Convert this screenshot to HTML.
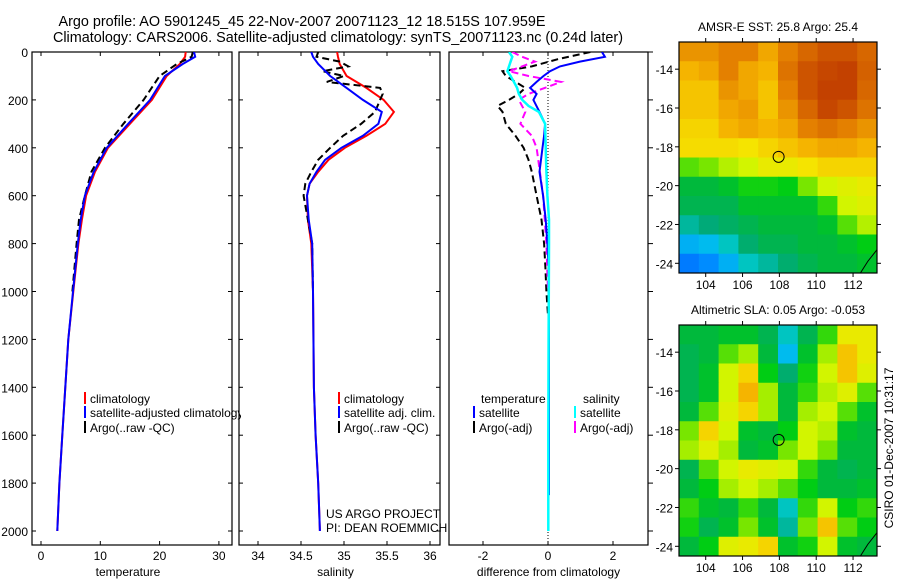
<!DOCTYPE html>
<html><head><meta charset="utf-8"><style>
body{margin:0;background:#fff;}
svg{display:block;font-family:"Liberation Sans",sans-serif;}
</style></head><body>
<svg id="chart" width="900" height="580" viewBox="0 0 900 580" xmlns="http://www.w3.org/2000/svg">
<text x="302" y="26" font-size="14.4" text-anchor="middle">Argo profile: AO 5901245_45 22-Nov-2007 20071123_12 18.515S 107.959E</text>
<text x="338" y="42" font-size="14.4" text-anchor="middle">Climatology: CARS2006. Satellite-adjusted climatology: synTS_20071123.nc (0.24d later)</text>
<g id="g"></g>
</svg>
<script>
// ---- profile data ----
const depthsT = [0,20,50,100,200,300,400,500,600,700,800,1000,1200,1400,1600,1800,2000];
const tempClim = [24.4,24.3,23.4,21.2,18.7,15.0,11.3,9.1,7.6,6.9,6.3,5.45,4.6,4.1,3.6,3.1,2.75];
const tempSat  = [25.8,26.0,23.9,20.9,18.4,14.7,11.1,8.9,7.4,6.7,6.2,5.4,4.6,4.1,3.6,3.1,2.75];
const depthsTA = [0,20,50,100,200,300,400,500,600,700,800,1000];
const tempArgo = [25.6,25.4,22.9,20.0,17.3,13.9,10.8,8.5,7.4,6.4,6.0,5.3];

const depthsS = [0,20,50,100,150,200,250,300,350,400,450,500,550,600,700,800,1000,1400,1600,1800,2000];
const salClim = [34.92,34.93,34.95,35.03,35.26,35.46,35.58,35.48,35.26,35.01,34.82,34.70,34.60,34.57,34.58,34.62,34.64,34.65,34.67,34.70,34.72];
const salSat  = [34.62,34.64,34.70,34.84,35.03,35.22,35.44,35.40,35.22,34.97,34.78,34.68,34.60,34.57,34.59,34.63,34.64,34.65,34.67,34.70,34.72];
const depthsSA = [0,20,40,60,80,100,125,150,175,200,250,300,350,400,450,500,550,600,700,800,1000];
const salArgo = [34.70,34.68,34.95,35.05,34.75,35.0,34.80,35.42,35.45,35.42,35.36,35.20,34.99,34.84,34.70,34.62,34.55,34.53,34.58,34.63,34.64];

const depthsD = [0,20,40,60,80,100,125,150,175,200,250,300,350,400,500,600,700,800,900,1200,1500,1850];
const dTempSat = [1.66,1.75,0.98,0.37,0.06,-0.14,-0.35,-0.55,-0.35,-0.45,-0.26,-0.09,-0.12,-0.17,-0.26,-0.15,-0.07,-0.02,0.02,0.03,0.03,0.03];
const depthsDC = [0,20,40,60,80,100,125,150,175,200,225,250,300,350,400,500,600,700,800,1200,1600,2000];
const dSalSat = [-1.2,-1.1,-1.15,-1.2,-1.25,-1.15,-1.05,-0.95,-0.9,-0.79,-0.6,-0.28,-0.09,-0.08,-0.07,-0.05,-0.02,0.03,0.03,0.02,0.01,0.01];
const depthsDA = [0,30,60,80,100,125,150,175,200,225,250,300,350,400,450,500,600,700,800,900,1000,1100];
const dTempArgo = [1.3,0.3,-0.5,-1.4,-1.3,-1.0,-0.7,-0.9,-1.2,-1.55,-1.4,-1.3,-1.0,-0.75,-0.6,-0.5,-0.35,-0.2,-0.12,-0.08,-0.05,0];
const depthsDM = [0,20,40,60,80,100,125,150,175,200,250,300,350,400,500,600,700,800,1000];
const dSalArgo = [-1.1,-0.8,-0.4,-0.8,-1.2,-0.6,0.4,-0.1,-0.6,-0.9,-0.7,-0.85,-0.5,-0.35,-0.25,-0.15,-0.1,-0.05,0];

const depthTicks = [0,200,400,600,800,1000,1200,1400,1600,1800,2000];
const tempTicks = [0,10,20,30];
const salTicks = [34,34.5,35,35.5,36];
const diffTicks = [-2,0,2];

// ---- map data ----
const sstGrid = [
[.75,.75,.78,.78,.72,.78,.82,.85,.85,.82],
[.70,.72,.78,.72,.70,.80,.85,.87,.88,.83],
[.68,.68,.75,.72,.68,.78,.85,.88,.88,.82],
[.68,.68,.72,.74,.68,.75,.82,.87,.85,.80],
[.66,.66,.70,.72,.70,.72,.78,.80,.78,.75],
[.65,.65,.65,.64,.66,.68,.70,.72,.72,.70],
[.50,.52,.56,.58,.62,.62,.64,.66,.66,.66],
[.40,.40,.42,.46,.46,.45,.52,.58,.60,.62],
[.38,.38,.38,.42,.42,.42,.42,.48,.58,.60],
[.32,.34,.36,.38,.40,.40,.40,.42,.50,.56],
[.25,.26,.30,.35,.38,.38,.40,.40,.42,.45],
[.20,.22,.25,.30,.32,.35,.38,.40,.40,.42]];
const slaGrid = [
[.40,.40,.42,.42,.38,.30,.38,.48,.62,.62],
[.38,.40,.50,.55,.40,.26,.42,.55,.68,.62],
[.38,.42,.58,.66,.45,.35,.46,.58,.68,.60],
[.38,.42,.58,.70,.55,.40,.48,.56,.60,.50],
[.40,.50,.60,.66,.55,.40,.55,.58,.50,.42],
[.52,.66,.58,.42,.40,.45,.58,.56,.42,.40],
[.55,.60,.55,.40,.42,.52,.58,.52,.40,.40],
[.38,.50,.58,.62,.60,.58,.48,.40,.38,.40],
[.40,.45,.55,.58,.55,.50,.45,.40,.40,.42],
[.48,.42,.40,.48,.40,.30,.48,.58,.45,.48],
[.46,.38,.42,.52,.42,.32,.52,.68,.50,.45],
[.40,.45,.60,.62,.66,.42,.46,.58,.42,.40]];
const lonTicks = [104,106,108,110,112];
const latTicks = [-14,-16,-18,-20,-22,-24];
const argoLon = 107.959, argoLat = -18.515;

const NS = "http://www.w3.org/2000/svg";
const G = document.getElementById('g');
function mk(tag, attrs, parent){const e=document.createElementNS(NS,tag);for(const k in attrs)e.setAttribute(k,attrs[k]);(parent||G).appendChild(e);return e;}

const yTop=52, yPx=0.2395, axBottom=545;
const yD = d => yTop + d*yPx;
const panels = [
 {x0:32,x1:232,sx:v=>41+v*5.93,ticks:tempTicks,label:'temperature',name:'temperature'},
 {x0:239,x1:440,sx:v=>258+(v-34)*86,ticks:salTicks,label:'salinity',name:'salinity'},
 {x0:449,x1:648,sx:v=>548+v*32.5,ticks:diffTicks,label:'difference from climatology',name:'difference'}
];
const defs = mk('defs',{});
panels.forEach((p,i)=>{
  const cp = mk('clipPath',{id:'clip'+i},defs);
  mk('rect',{x:p.x0,y:yTop,width:p.x1-p.x0,height:axBottom-yTop},cp);
});
const cpl = mk('clipPath',{id:'clipLeg'},defs);
mk('rect',{x:32,y:yTop,width:209,height:axBottom-yTop},cpl);

function line(p,i,ds,vs,color,w,dash,name){
  const pts = ds.map((d,k)=>p.sx(vs[k]).toFixed(1)+','+yD(d).toFixed(1)).join(' ');
  const e = mk('polyline',{points:pts,fill:'none',stroke:color,'stroke-width':w,'clip-path':'url(#clip'+i+')'});
  if(dash) e.setAttribute('stroke-dasharray',dash);
  
  
}

panels.forEach((p,i)=>{
  const f = mk('rect',{x:p.x0,y:yTop,width:p.x1-p.x0,height:axBottom-yTop,fill:'none',stroke:'#000','stroke-width':1.2});
  
  
  p.ticks.forEach(t=>{
    const x=p.sx(t);
    mk('line',{x1:x,y1:axBottom,x2:x,y2:axBottom-4,stroke:'#000'});
    mk('line',{x1:x,y1:yTop,x2:x,y2:yTop+4,stroke:'#000'});
    const tl = mk('text',{x:x,y:axBottom+15,'font-size':12,'text-anchor':'middle'});
    tl.textContent = t;
    
    
  });
  depthTicks.forEach(d=>{
    const y=yD(d);
    if(i<2){ mk('line',{x1:p.x0,y1:y,x2:p.x0+4,y2:y,stroke:'#000'}); mk('line',{x1:p.x1,y1:y,x2:p.x1-4,y2:y,stroke:'#000'}); }
    else { mk('line',{x1:p.x1,y1:y,x2:p.x1+5,y2:y,stroke:'#000'}); }
    if(i===0){
      const tl = mk('text',{x:28,y:y+5,'font-size':12,'text-anchor':'end'});
      tl.textContent = d;
      
      
    }
  });
  const xl = mk('text',{x:(p.x0+p.x1)/2-(i===2?0:4),y:576,'font-size':12,'text-anchor':'middle'});
  xl.textContent = p.label;
  
  
});

line(panels[0],0,depthsT,tempClim,'#ff0000',2,null,'temp-climatology-line');
line(panels[0],0,depthsTA,tempArgo,'#000',2,'7,4','temp-argo-line');
line(panels[0],0,depthsT,tempSat,'#0000ff',2,null,'temp-satellite-line');
line(panels[1],1,depthsS,salClim,'#ff0000',2,null,'sal-climatology-line');
line(panels[1],1,depthsSA,salArgo,'#000',2,'7,4','sal-argo-line');
line(panels[1],1,depthsS,salSat,'#0000ff',2,null,'sal-satellite-line');
mk('line',{x1:548,y1:yTop,x2:548,y2:axBottom,stroke:'#000','stroke-dasharray':'1,2'});
line(panels[2],2,depthsDA,dTempArgo,'#000',2,'7,4','diff-temp-argo-line');
line(panels[2],2,depthsDM,dSalArgo,'#ff00ff',2,'7,4','diff-sal-argo-line');
line(panels[2],2,depthsD,dTempSat,'#0000ff',2,null,'diff-temp-satellite-line');
line(panels[2],2,depthsDC,dSalSat,'#00ffff',2.5,null,'diff-sal-satellite-line');

function legend(x,y,color,txt,clip,name){
  if(color) mk('rect',{x:x,y:y-11,width:2,height:12,fill:color});
  const t = mk('text',{x:color?x+6:x,y:y,'font-size':12});
  if(clip!==undefined) t.setAttribute('clip-path','url(#'+clip+')');
  t.textContent = txt;
  
  
}
legend(84,403,'#ff0000','climatology',undefined,'legend-temp-climatology');
legend(84,417,'#0000ff','satellite-adjusted climatology','clipLeg','legend-temp-satellite');
legend(84,432,'#000','Argo(..raw -QC)',undefined,'legend-temp-argo');
legend(338,403,'#ff0000','climatology','clip1','legend-sal-climatology');
legend(338,417,'#0000ff','satellite adj. clim.','clip1','legend-sal-satellite');
legend(338,432,'#000','Argo(..raw -QC)','clip1','legend-sal-argo');
legend(481,403,null,'temperature',undefined,'legend-temperature-header');
legend(583,403,null,'salinity',undefined,'legend-salinity-header');
legend(473,417,'#0000ff','satellite',undefined,'legend-diff-temp-satellite');
legend(473,432,'#000','Argo(-adj)',undefined,'legend-diff-temp-argo');
legend(574,417,'#00ffff','satellite',undefined,'legend-diff-sal-satellite');
legend(574,432,'#ff00ff','Argo(-adj)',undefined,'legend-diff-sal-argo');
legend(326,518,null,'US ARGO PROJECT',undefined,'credit-project');
legend(326,532,null,'PI: DEAN ROEMMICH',undefined,'credit-pi');

const cstops=[[0.15,[0,80,255]],[0.22,[0,140,255]],[0.28,[0,210,230]],[0.34,[0,170,120]],[0.40,[0,185,60]],[0.45,[0,205,20]],[0.52,[120,230,0]],[0.58,[210,245,0]],[0.64,[245,228,0]],[0.70,[245,180,0]],[0.78,[228,128,0]],[0.88,[195,65,0]]];
function cmap(v){
  if(v<=cstops[0][0]) return 'rgb('+cstops[0][1]+')';
  for(let k=1;k<cstops.length;k++){ if(v<=cstops[k][0]){const a=cstops[k-1],b=cstops[k],t=(v-a[0])/(b[0]-a[0]);return 'rgb('+a[1].map((c,j)=>Math.round(c+(b[1][j]-c)*t)).join(',')+')';}}
  return 'rgb('+cstops[cstops.length-1][1]+')';
}
function drawMap(grid,top,title,name){
  const x0=679,x1=877,y0=top,y1=top+231;
  const lonMin=102.55,lonMax=113.3,latMax=-12.6,latMin=-24.5;
  const sx=lon=>x0+(lon-lonMin)/(lonMax-lonMin)*(x1-x0);
  const sy=lat=>y0+(latMax-lat)/(latMax-latMin)*(y1-y0);
  const cp=mk('clipPath',{id:'clip'+name},defs);
  mk('rect',{x:x0,y:y0,width:x1-x0,height:y1-y0},cp);
  const g=mk('g',{'clip-path':'url(#clip'+name+')'});
  
  
  const nr=grid.length,nc=grid[0].length;
  const dLon=(lonMax-lonMin)/nc,dLat=(latMax-latMin)/nr;
  grid.forEach((row,r)=>row.forEach((v,c)=>{
    const xa=sx(lonMin+c*dLon),xb=sx(lonMin+(c+1)*dLon),ya=sy(latMax-r*dLat),yb=sy(latMax-(r+1)*dLat);
    const cell=mk('rect',{x:xa,y:ya,width:xb-xa+0.5,height:yb-ya+0.5,fill:cmap(v)},g);
    
    
  }));
  mk('polyline',{points:sx(112.4)+','+sy(-24.5)+' '+sx(112.8)+','+sy(-23.9)+' '+sx(113.3)+','+sy(-23.3),fill:'none',stroke:'#000'},g);
  const fr=mk('rect',{x:x0,y:y0,width:x1-x0,height:y1-y0,fill:'none',stroke:'#000','stroke-width':1.2});
  
  
  const c=mk('circle',{cx:sx(argoLon),cy:sy(argoLat),r:5.5,fill:'none',stroke:'#000'});
  
  
  lonTicks.forEach(t=>{
    const x=sx(t);
    mk('line',{x1:x,y1:y0,x2:x,y2:y0-4,stroke:'#000'});
    mk('line',{x1:x,y1:y1,x2:x,y2:y1+4,stroke:'#000'});
    const tl=mk('text',{x:x,y:y1+16,'font-size':12,'text-anchor':'middle'});
    tl.textContent=t;
    
    
  });
  latTicks.forEach(t=>{
    const y=sy(t);
    mk('line',{x1:x0,y1:y,x2:x0-4,y2:y,stroke:'#000'});
    mk('line',{x1:x1,y1:y,x2:x1+4,y2:y,stroke:'#000'});
    const tl=mk('text',{x:x0-6,y:y+5,'font-size':12,'text-anchor':'end'});
    tl.textContent=t;
    
    
  });
  const tt=mk('text',{x:(x0+x1)/2,y:y0-11,'font-size':12,'text-anchor':'middle'});
  tt.textContent=title;
  
  
}
drawMap(sstGrid,42,'AMSR-E SST: 25.8 Argo: 25.4','sst');
drawMap(slaGrid,325,'Altimetric SLA: 0.05 Argo: -0.053','sla');
const cs=mk('text',{x:0,y:0,'font-size':12,'text-anchor':'middle',transform:'translate(893,448) rotate(-90)'});
cs.textContent='CSIRO 01-Dec-2007 10:31:17';


</script>
</body></html>
